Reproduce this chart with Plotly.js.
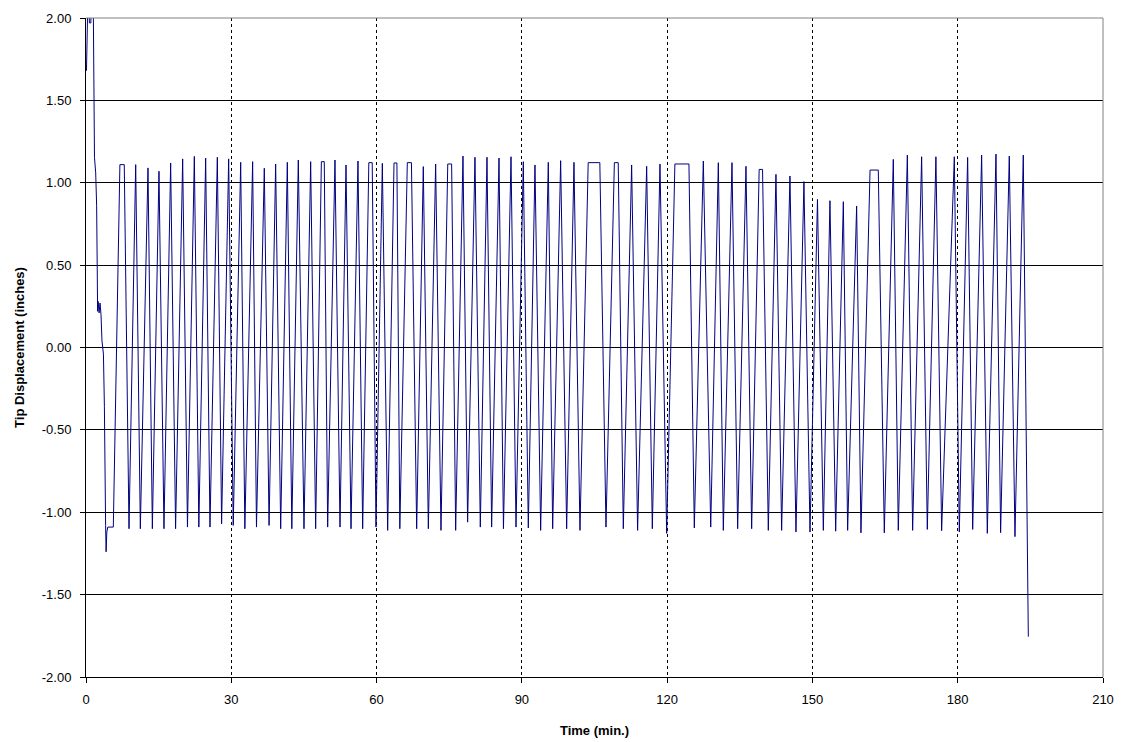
<!DOCTYPE html>
<html>
<head>
<meta charset="utf-8">
<script src="https://cdn.plot.ly/plotly-3.0.1.min.js"></script>
<style>html,body{margin:0;padding:0;background:#fff;}#chart{width:1125px;height:742px;}</style>
</head>
<body>
<div id="chart"></div>
<script>
// Initial transient (time in min, tip displacement in inches)
const startT = [0.1, 0.2, 0.35, 0.6, 0.7, 1.0, 1.1, 1.5, 1.55, 1.75, 2.0, 2.2, 2.4, 2.5, 2.7, 2.9, 3.1, 3.3, 3.6, 3.8, 4.05, 4.15, 4.3, 4.5, 5.64];
const startV = [1.68, 1.85, 2.05, 2.1, 1.97, 1.97, 2.1, 2.1, 1.61, 1.155, 1.06, 0.86, 0.22, 0.28, 0.21, 0.27, 0.2, 0.04, -0.04, -0.36, -1.08, -1.24, -1.12, -1.09, -1.09];

// Peaks: start and end time of each crest (equal when the crest is sharp), and its value
const peakT0 = [7.0, 10.26, 12.8, 15.07, 17.48, 19.96, 22.37, 24.71, 27.12, 29.46, 31.94, 34.41, 36.82, 39.16, 41.57, 43.84, 46.39, 48.6, 51.41, 53.69, 56.16, 58.4, 61.19, 63.6, 66.35, 69.65, 72.2, 74.7, 77.84, 80.32, 82.8, 85.28, 87.76, 90.3, 92.71, 95.46, 98.01, 100.76, 103.7, 109.1, 112.67, 115.77, 118.52, 121.6, 127.47, 130.57, 133.39, 136.28, 139.0, 142.47, 145.36, 148.25, 151.04, 153.62, 156.38, 159.13, 161.9, 166.7, 169.6, 172.55, 175.5, 179.3, 182.05, 184.94, 187.9, 190.65, 193.54];
const peakT1 = [7.9, 10.26, 12.8, 15.07, 17.48, 19.96, 22.37, 24.71, 27.12, 29.46, 31.94, 34.41, 36.82, 39.16, 41.57, 43.84, 46.39, 49.2, 51.41, 53.69, 56.16, 59.1, 61.19, 64.2, 67.2, 69.65, 72.2, 75.5, 77.84, 80.32, 82.8, 85.28, 87.76, 90.3, 92.71, 95.46, 98.01, 100.76, 106.1, 109.9, 112.67, 115.77, 118.52, 124.5, 127.47, 130.57, 133.39, 136.28, 139.7, 142.47, 145.36, 148.25, 151.04, 153.62, 156.38, 159.13, 163.6, 166.7, 169.6, 172.55, 175.5, 179.3, 182.05, 184.94, 187.9, 190.65, 193.54];
const peakV = [1.11, 1.11, 1.09, 1.07, 1.12, 1.145, 1.16, 1.15, 1.155, 1.145, 1.124, 1.128, 1.088, 1.114, 1.124, 1.138, 1.128, 1.128, 1.138, 1.108, 1.132, 1.122, 1.118, 1.12, 1.122, 1.098, 1.114, 1.114, 1.162, 1.155, 1.155, 1.15, 1.158, 1.128, 1.108, 1.124, 1.134, 1.124, 1.122, 1.122, 1.108, 1.10, 1.114, 1.114, 1.132, 1.122, 1.122, 1.10, 1.081, 1.051, 1.041, 1.007, 0.899, 0.891, 0.885, 0.859, 1.077, 1.142, 1.168, 1.158, 1.158, 1.158, 1.154, 1.168, 1.174, 1.162, 1.168];

// Troughs following each peak
const troughT = [8.88, 11.22, 13.7, 16.1, 18.5, 20.95, 23.3, 25.6, 28.0, 30.4, 32.8, 35.2, 37.8, 40.2, 42.5, 45.01, 47.42, 49.9, 52.45, 54.72, 57.13, 59.88, 62.29, 64.8, 68.28, 70.69, 73.3, 76.33, 78.8, 81.42, 83.76, 86.2, 88.79, 91.33, 93.88, 96.36, 99.25, 102.0, 107.37, 110.95, 113.9, 116.94, 119.9, 125.61, 129.0, 131.6, 134.56, 137.45, 140.89, 143.64, 146.6, 149.5, 152.25, 154.8, 157.27, 160.02, 164.84, 167.73, 170.69, 173.72, 176.68, 180.33, 183.09, 186.11, 188.86, 191.82, 194.58];
const troughV = [-1.10, -1.10, -1.10, -1.10, -1.10, -1.09, -1.09, -1.09, -1.07, -1.08, -1.10, -1.09, -1.08, -1.10, -1.10, -1.10, -1.10, -1.09, -1.09, -1.10, -1.10, -1.09, -1.11, -1.10, -1.10, -1.10, -1.11, -1.11, -1.06, -1.09, -1.09, -1.10, -1.09, -1.095, -1.11, -1.10, -1.10, -1.11, -1.09, -1.10, -1.11, -1.10, -1.128, -1.095, -1.09, -1.11, -1.10, -1.10, -1.11, -1.11, -1.12, -1.12, -1.11, -1.115, -1.11, -1.125, -1.125, -1.11, -1.11, -1.104, -1.112, -1.12, -1.104, -1.128, -1.124, -1.148, -1.755];

// Axis ticks
const xTickVals = [0, 30, 60, 90, 120, 150, 180, 210];
const xTickText = ['0', '30', '60', '90', '120', '150', '180', '210'];
const yTickVals = [-2, -1.5, -1, -0.5, 0, 0.5, 1, 1.5, 2];
const yTickText = ['-2.00', '-1.50', '-1.00', '-0.50', '0.00', '0.50', '1.00', '1.50', '2.00'];

// Build the vertex sequence
const xs = startT.slice();
const ys = startV.slice();
for (let i = 0; i < peakT0.length; i++) {
  xs.push(peakT0[i]); ys.push(peakV[i]);
  if (peakT1[i] !== peakT0[i]) { xs.push(peakT1[i]); ys.push(peakV[i]); }
  xs.push(troughT[i]); ys.push(troughV[i]);
}

const FONT = 'Liberation Sans, Arial, sans-serif';

const trace = {
  x: xs, y: ys, type: 'scatter', mode: 'lines',
  line: {color: '#000080', width: 1},
  hoverinfo: 'skip'
};

const layout = {
  width: 1125, height: 742,
  margin: {l: 86, r: 22, t: 18, b: 65, pad: 0},
  paper_bgcolor: '#fff', plot_bgcolor: '#fff',
  showlegend: false,
  font: {family: FONT, size: 13, color: '#000'},
  xaxis: {
    range: [0, 210], tickmode: 'array', tickvals: xTickVals, ticktext: xTickText,
    showgrid: true, gridcolor: '#000', gridwidth: 1, griddash: '3px,3px',
    zeroline: false, showline: true, linecolor: '#000', linewidth: 1,
    ticks: 'outside', ticklen: 5, tickcolor: '#000', tickwidth: 1,
    ticklabelstandoff: 5,
    tickfont: {family: FONT, size: 13, color: '#000'},
    title: {text: 'Time (min.)', font: {family: FONT, size: 13, color: '#000', weight: 'bold'}, standoff: 20}
  },
  yaxis: {
    range: [-2, 2], tickmode: 'array', tickvals: yTickVals, ticktext: yTickText,
    showgrid: true, gridcolor: '#000', gridwidth: 1,
    zeroline: false, showline: true, linecolor: '#000', linewidth: 1,
    ticks: 'outside', ticklen: 5, tickcolor: '#000', tickwidth: 1,
    ticklabelstandoff: 6,
    tickfont: {family: FONT, size: 13, color: '#000'},
    title: {text: 'Tip Displacement (inches)', font: {family: FONT, size: 13, color: '#000', weight: 'bold'}, standoff: 14}
  },
  shapes: [
    {type: 'line', xref: 'paper', yref: 'paper', x0: 0, x1: 1, y0: 1, y1: 1, line: {color: '#808080', width: 1}},
    {type: 'line', xref: 'paper', yref: 'paper', x0: 1, x1: 1, y0: 0, y1: 1, line: {color: '#808080', width: 1}}
  ]
};

Plotly.newPlot('chart', [trace], layout, {staticPlot: true, displayModeBar: false});
</script>
</body>
</html>
